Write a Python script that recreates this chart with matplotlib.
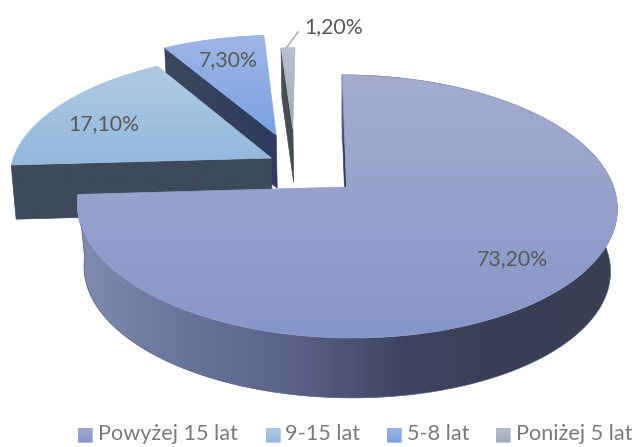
import numpy as np
import matplotlib
matplotlib.use("Agg")
import matplotlib.pyplot as plt
from matplotlib.patches import Polygon

categories = ["Powyżej 15 lat", "9-15 lat", "5-8 lat", "Poniżej 5 lat"]
values = [73.2, 17.1, 7.3, 1.2]

# pixel layout of the 3d pie
CX = 346.5
R = 267
SKEW = -5
K = 0.148
Y_TOP = 187
A_TOP = 128.6
# bottom rim: (y centre, y scale, x scale), the big slice sits a bit lower
BOT_BIG = (250, 126, 0.975)
BOT_OUT = (242, 133, 0.985)

# explode offset of each slice in disc units, and slice radius
offsets = [(0, 0), (-0.287, 0.233), (-0.272, 0.43), (-0.206, 0.48)]
radii = [1, 1, 1, 0.81]

top_cols = [[(165, 172, 208), (134, 150, 200)],
            [(175, 202, 226), (146, 184, 220)],
            [(158, 182, 230), (122, 160, 226)],
            [(186, 192, 206), (160, 170, 186)]]
wall_cols = [[(54, 60, 86), (54, 60, 86)],
             [(62, 73, 90), (62, 73, 90)],
             [(60, 70, 92), (45, 60, 96)],
             [(78, 80, 86), (70, 72, 78)]]
big_wall = [(128, 140, 178), (105, 115, 155), (92, 98, 136), (62, 68, 98), (58, 62, 86), (60, 64, 84)]
legend_cols = [c for c in top_cols]


def project(u, v, bot=None):
    s = 1 + K * v
    if bot is not None:
        return CX + (R * bot[2] * u + SKEW * v) / s, bot[0] - bot[1] * v / s
    return CX + (R * u + SKEW * v) / s, Y_TOP - A_TOP * v / s


def edge_points(a, off, r, bot=None):
    # a is clockwise from 12 o'clock, in radians
    u = off[0] + r * np.sin(a)
    v = off[1] + r * np.cos(a)
    x, y = project(u, v, bot)
    return np.column_stack([np.atleast_1d(x), np.atleast_1d(y)])


def grad_fill(ax, pts, cols, horizontal=False, zorder=1):
    pts = np.asarray(pts)
    t = np.linspace(0, 1, 256)
    c = np.asarray(cols, dtype=float) / 255
    stops = np.linspace(0, 1, len(c))
    ramp = np.column_stack([np.interp(t, stops, c[:, i]) for i in range(3)])
    img = ramp[None, :, :] if horizontal else ramp[:, None, :]
    x0, x1 = pts[:, 0].min(), pts[:, 0].max()
    y0, y1 = pts[:, 1].min(), pts[:, 1].max()
    im = ax.imshow(img, extent=(x0, x1, y1, y0), origin="upper", aspect="auto",
                   zorder=zorder, interpolation="bilinear")
    im.set_clip_path(Polygon(pts, closed=True, transform=ax.transData))
    # thin outline softens the clipped edge
    ax.add_patch(Polygon(pts, closed=True, fill=False, lw=0.5, zorder=zorder,
                         edgecolor=tuple(c.mean(axis=0))))


def wall(top_pts, bot_pts):
    return np.vstack([top_pts, bot_pts[::-1]])


fig = plt.figure(figsize=(6.34, 4.47), dpi=100)
ax = fig.add_axes([0, 0, 1, 1])
ax.axis("off")

# slice limits follow the values, start at 12 o'clock going clockwise
fracs = np.array(values) / sum(values)
limits = np.concatenate([[0], np.cumsum(fracs)]) * 2 * np.pi

# painter order: back slices first, big slice last
z = 1
for i in [3, 2, 1, 0]:
    a0, a1 = limits[i], limits[i + 1]
    off, r = offsets[i], radii[i]
    bot = BOT_BIG if i == 0 else BOT_OUT
    arc = np.linspace(a0, a1, 200)
    apex_t = project(off[0], off[1])
    apex_b = project(off[0], off[1], BOT_OUT)
    arc_t = edge_points(arc, off, r)
    arc_b = edge_points(arc, off, r, bot)
    if i == 0:
        # narrow wall at 12 o'clock, then the outer round wall
        grad_fill(ax, [apex_t, arc_t[0], edge_points(a0, off, r, BOT_OUT)[0], apex_b],
                  wall_cols[0], zorder=z)
        z += 1
        grad_fill(ax, wall(arc_t, arc_b), big_wall, horizontal=True, zorder=z)
    else:
        # radial wall on the front side of the slice
        p_t = edge_points(a0, off, r)[0]
        p_b = edge_points(a0, off, r, bot)[0]
        grad_fill(ax, [apex_t, p_t, p_b, apex_b], wall_cols[i], horizontal=True, zorder=z)
    z += 1
    grad_fill(ax, np.vstack([[apex_t], arc_t]), top_cols[i], zorder=z)
    z += 1

labels = [f"{v:.2f}%".replace(".", ",") for v in values]
label_pos = [(512, 259), (104, 124), (228, 60), (334, 27)]
for lab, (x, y) in zip(labels, label_pos):
    ax.text(x, y, lab, fontsize=15.3, family="Lato", color="#595959",
            ha="center", va="center", zorder=30)
ax.plot([287, 298], [47, 32], color="#a6a6a6", lw=1, zorder=30)

# legend
square_x = [78, 266, 387, 496]
text_x = [98, 285, 407, 516]
for i, name in enumerate(categories):
    x = square_x[i]
    grad_fill(ax, [(x, 428), (x + 14, 428), (x + 14, 442), (x, 442)], legend_cols[i], zorder=30)
    ax.text(text_x[i], 434, name, fontsize=15.6, family="Lato", color="#7a7a7a",
            ha="left", va="center", zorder=30)

ax.set_xlim(0, 634)
ax.set_ylim(447, 0)
fig.savefig("out.png", dpi=100)
